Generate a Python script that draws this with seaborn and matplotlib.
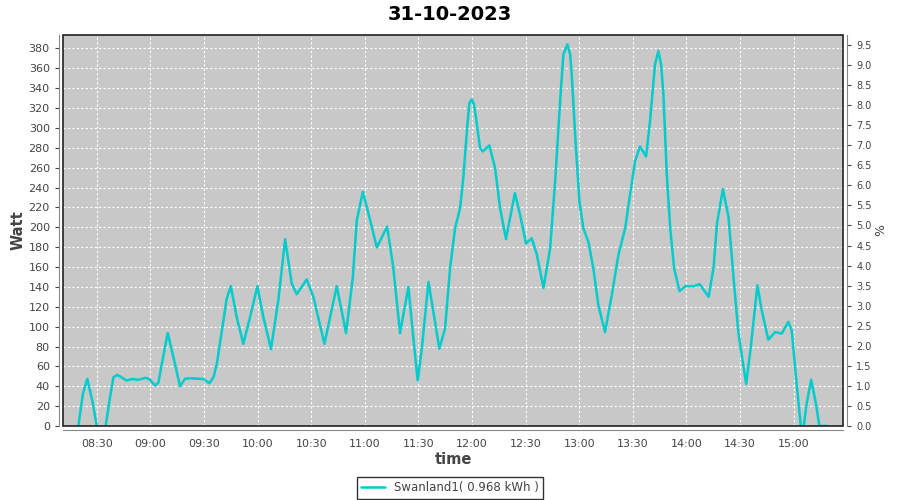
import matplotlib
matplotlib.use("Agg")
import matplotlib.pyplot as plt
import matplotlib.dates as mdates
from matplotlib.patches import Rectangle
from matplotlib.ticker import FormatStrFormatter
import numpy as np
import pandas as pd
import seaborn as sns

# Power readings of one inverter on a single day
DAY = "2023-10-31"
times = [
    "08:19:42", "08:22:12", "08:24:42", "08:27:30", "08:30:00", "08:32:30", "08:35:00",
    "08:37:06", "08:39:18", "08:41:30", "08:46:48", "08:49:36", "08:53:18", "08:57:36",
    "08:59:48", "09:02:36", "09:04:30", "09:06:24", "09:09:42", "09:12:54", "09:16:36",
    "09:19:24", "09:22:12", "09:29:42", "09:33:00", "09:35:18", "09:37:12", "09:40:00",
    "09:42:42", "09:45:00", "09:48:18", "09:52:00", "09:55:48", "09:59:54", "10:03:12",
    "10:07:30", "10:11:36", "10:15:24", "10:19:06", "10:21:54", "10:27:30", "10:31:12",
    "10:37:24", "10:44:18", "10:49:30", "10:53:18", "10:55:30", "10:58:54", "11:03:00",
    "11:06:42", "11:12:30", "11:16:00", "11:19:42", "11:24:24", "11:27:12", "11:29:36",
    "11:31:54", "11:35:36", "11:38:24", "11:41:42", "11:44:54", "11:47:42", "11:50:30",
    "11:53:18", "11:55:06", "11:57:24", "11:58:30", "11:59:54", "12:01:06", "12:01:42",
    "12:04:30", "12:06:00", "12:09:42", "12:12:54", "12:15:42", "12:19:00", "12:24:00",
    "12:26:54", "12:30:12", "12:33:24", "12:36:12", "12:40:00", "12:43:42", "12:46:30",
    "12:49:18", "12:51:06", "12:53:24", "12:54:54", "12:55:48", "12:57:42", "13:00:06",
    "13:02:18", "13:05:06", "13:07:54", "13:10:42", "13:14:24", "13:18:12", "13:21:54",
    "13:25:42", "13:28:24", "13:31:12", "13:34:00", "13:37:24", "13:39:36", "13:42:24",
    "13:44:18", "13:45:48", "13:47:06", "13:49:00", "13:50:54", "13:53:06", "13:56:06",
    "13:59:24", "14:04:00", "14:07:24", "14:12:24", "14:15:12", "14:17:06", "14:20:24",
    "14:23:30", "14:26:18", "14:29:06", "14:33:24", "14:36:00", "14:39:42", "14:42:06",
    "14:45:48", "14:49:36", "14:53:18", "14:57:00", "14:58:54", "15:01:18", "15:04:00",
    "15:05:30", "15:07:12", "15:09:48", "15:12:30", "15:14:24", "15:19:00",
]
watts = [
    0, 32, 47.5, 25.5, 0, -15, 0,
    25.5, 49, 51.5, 45.7, 47.3, 46.5, 48.5,
    46.5, 40.7, 43.7, 62.6, 93.5, 69.3, 40,
    47.5, 48, 47.3, 43, 49, 62.6, 96,
    128, 140.7, 109.7, 82.8, 109.7, 140.7, 109.7,
    77.4, 126.6, 188, 143.4, 132.6, 147.5, 130,
    82.8, 140.7, 93.5, 150, 207, 235.7, 207,
    179.8, 200.6, 158.6, 93.5, 140, 87.9, 45.8,
    77.8, 145, 114.8, 77.8, 98, 158.6, 199,
    219.2, 249.5, 303, 325, 328.6, 323.5, 316.8,
    279.8, 276.4, 282.4, 259.6, 219.2, 188.2, 234.3,
    212.4, 183.8, 188.9, 173, 139, 178.8, 246,
    327, 374, 384, 374, 353.8, 293, 225.9,
    199, 185.5, 158.6, 121.5, 94.5, 131.6, 172,
    199, 232.6, 266.3, 281.4, 271.3, 306.7, 364,
    377.4, 364, 333.6, 252.8, 199, 158.6, 135.7,
    140.7, 140.7, 142.7, 130, 160, 204, 238.4,
    210.7, 150, 93, 42.4, 79.4, 141.7, 116.5,
    86.9, 94.5, 93, 104.7, 96.3, 49, 0,
    -2, 22, 46.5, 22, 0, 0,
]
series_label = "Swanland1( 0.968 kWh )"
watt_ticks = list(range(0, 381, 20))
pct_ticks = np.arange(0, 9.51, 0.5)

df = pd.DataFrame({
    "time": pd.to_datetime([f"{DAY} {t}" for t in times]),
    "watt": watts,
})

sns.set_style("white")
plt.rcParams["font.family"] = ["DejaVu Sans"]

grey = "#444444"
fig = plt.figure(figsize=(9, 5), dpi=100)
ax = fig.add_axes([63 / 900, 74 / 500, 780 / 900, 391 / 500])
ax.set_facecolor("#c8c8c8")

sns.lineplot(data=df, x="time", y="watt", ax=ax, color="#00cccc", lw=1.8,
             label=series_label, legend=False, zorder=3,
             solid_joinstyle="round", solid_capstyle="round")

ax.set_xlim(pd.Timestamp(f"{DAY} 08:11:06"), pd.Timestamp(f"{DAY} 15:27:36"))
ax.set_ylim(0, 393.5)
ax.set_yticks(watt_ticks)
ax.xaxis.set_major_locator(mdates.MinuteLocator(byminute=[0, 30]))
ax.xaxis.set_major_formatter(mdates.DateFormatter("%H:%M"))
ax.grid(True, color="white", ls=(0, (2, 2)), lw=0.8)
ax.tick_params(axis="both", labelsize=8, colors=grey, length=3, width=0.8, direction="out")

for side in ["left", "bottom"]:
    ax.spines[side].set_position(("outward", 3))
    ax.spines[side].set_color("#888888")
for side in ["top", "right"]:
    ax.spines[side].set_visible(False)
ax.add_patch(Rectangle((0, 0), 1, 1, transform=ax.transAxes, fill=False,
                       ec="#222222", lw=1.2, clip_on=False, zorder=5))

ax.set_xlabel("time", fontsize=10.5, fontweight="bold", color=grey, labelpad=2)
ax.set_ylabel("Watt", fontsize=10.5, fontweight="bold", color=grey, labelpad=2)

# right hand percentage axis
ax2 = ax.twinx()
ax2.set_ylim(0, 9.75)
ax2.set_yticks(pct_ticks)
ax2.yaxis.set_major_formatter(FormatStrFormatter("%.1f"))
ax2.tick_params(axis="y", labelsize=7, colors=grey, length=3, width=0.8)
for side in ["left", "top", "bottom"]:
    ax2.spines[side].set_visible(False)
ax2.spines["right"].set_position(("outward", 3))
ax2.spines["right"].set_color("#888888")
ax2.set_ylabel("%", fontsize=9, color=grey, labelpad=2)

fig.text(0.5, 0.972, "31-10-2023", ha="center", va="center",
         fontsize=14, fontweight="bold", color="black")

handles, labels = ax.get_legend_handles_labels()
leg = fig.legend(handles, labels, loc="center", bbox_to_anchor=(0.5, 0.024),
                 frameon=True, fancybox=False, edgecolor="black", fontsize=8.5,
                 handlelength=2, borderpad=0.35, labelcolor=grey)
leg.get_frame().set_linewidth(1)

fig.savefig("out.png", dpi=100)
